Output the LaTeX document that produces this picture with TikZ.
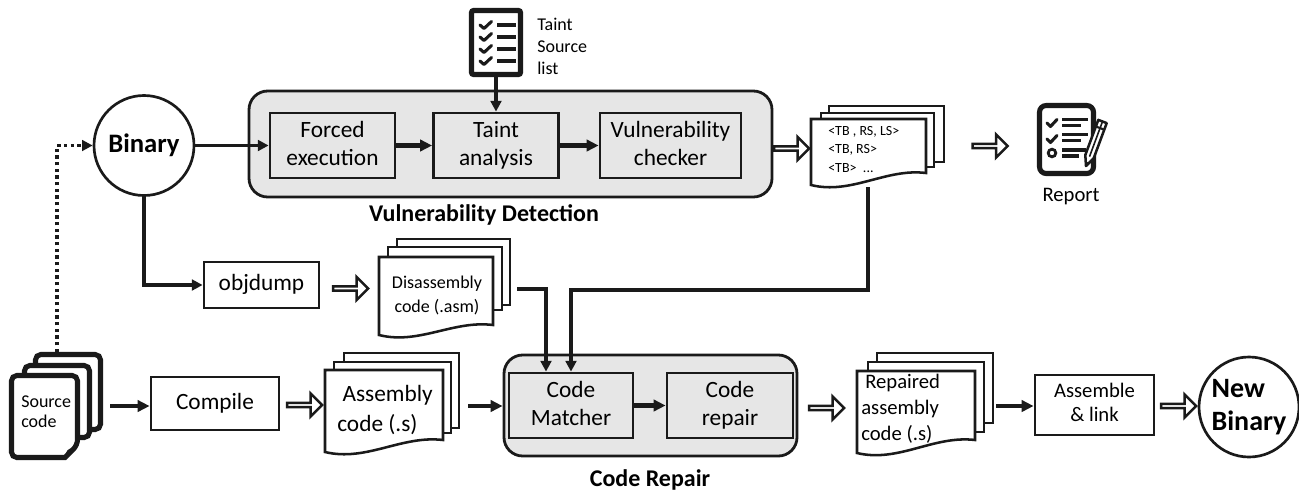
\documentclass[tikz,border=0pt]{standalone}
\usepackage{fontspec}
\setmainfont{Carlito}
\usetikzlibrary{arrows.meta,shapes.arrows,calc}
\definecolor{grp}{HTML}{E6E6E6}
\definecolor{ink}{HTML}{1A1A1A}
\newcommand\frontpage[5]{%
  \draw[page] (#1,#2) -- (#3,#2) -- (#3,#5) .. controls ({#3-0.35*(#3-#1)},{#5-5}) and ({#1+0.35*(#3-#1)},{#4+10}) .. (#1,#4) -- cycle;}
\newcommand\backpage[4]{\draw[page] (#1,#2) rectangle (#3,#4);}
\tikzset{
  sz/.style 2 args={minimum width=#1*0.75pt, minimum height=#2*0.75pt},
  box/.style={draw=ink, line width=2.1pt, inner sep=0pt, align=center},
  graybox/.style={box, fill=grp},
  whitebox/.style={box, fill=white},
  group/.style={draw=ink, line width=2.1pt, fill=grp, rounded corners=14pt, inner sep=0pt},
  conn/.style={draw=ink, line width=2.5pt, -{Triangle[length=8pt,width=8pt]}},
  bconn/.style={draw=ink, line width=3.3pt, -{Triangle[length=9pt,width=8.5pt]}},
  dotconn/.style={draw=ink, line width=2.6pt, dash pattern=on 2.6pt off 2.4pt, -{Triangle[length=8pt,width=8pt]}},
  harrow/.style={single arrow, draw=ink, fill=white, line width=1.9pt, inner sep=0pt,
    minimum height=35*0.75pt, minimum width=23*0.75pt, single arrow head extend=5.5*0.75pt},
  page/.style={draw=ink, line width=1.9pt, fill=white},
  srcpage/.style={draw=ink, line width=3.8pt, fill=white, rounded corners=4pt},
  mainf/.style={font=\fontsize{17.5}{21}\selectfont},
  midf/.style={font=\fontsize{15.5}{18}\selectfont},
  smallf/.style={font=\fontsize{13.5}{16.5}\selectfont},
  titlef/.style={font=\bfseries\fontsize{18}{22}\selectfont},
  bigcircle/.style={circle, draw=ink, line width=2pt, minimum size=100*0.75pt, inner sep=0pt, fill=white},
  ick/.style={draw=ink, line width=2.3pt, line cap=round, line join=round},
  iln/.style={draw=ink, line width=2.7pt},
}
\begin{document}
\begin{tikzpicture}[x=0.75pt,y=-0.75pt]
\useasboundingbox (0,0) rectangle (1299,494);

% ---------- Binary
\node[bigcircle, font=\bfseries\fontsize{20}{24}\selectfont] (bin) at (144,145.5) {Binary};

% ---------- Vulnerability Detection group
\node[group, sz={523}{106}] (vdg) at (510.5,144) {};
\node[graybox, sz={125}{65}, mainf] (forced) at (332.5,145.5) {Forced\strut\\execution\strut};
\node[graybox, sz={125}{65}, mainf] (taint) at (496,145.5) {Taint\strut\\analysis\strut};
\node[graybox, sz={141}{65}, mainf] (vuln) at (670.5,145.5) {Vulnerability\strut\\checker\strut};
\node[titlef] (vdl) at (484,215) {Vulnerability Detection};

% ---------- Taint source list icon
\node[draw=ink, line width=3.8pt, sz={49}{64}, inner sep=0pt, fill=white, rounded corners=1.5pt] (ticon) at (496,42.5) {};
\foreach \yy in {25,37,49,61}{
  \draw[ick] (480,\yy) -- (484,\yy+3.5) -- (491.5,\yy-3.5);
  \draw[iln] (497,\yy) -- (516,\yy);
}
\node[anchor=west, align=left, smallf, inner sep=0pt] (tsl) at (537,46) {Taint\\Source\\list};

% ---------- vulnerability list document
\backpage{829}{106}{944}{162}
\backpage{821}{113}{934}{167}
\frontpage{811}{119}{926}{185}{173}
\node[anchor=west, align=left, font=\fontsize{10.5}{14}\selectfont, inner sep=0pt] (vlist) at (828,149.5) {<TB , RS, LS>\\<TB, RS>\\<TB>\ \ ...};
\coordinate (vdocb) at (868,187);

% ---------- Report icon
\node[draw=ink, line width=3.8pt, rounded corners=5pt, sz={54}{68}, inner sep=0pt] (rep) at (1066.5,139.5) {};
\draw[ick] (1047,123) -- (1050.5,126.5) -- (1057,119.5);
\draw[ick] (1047,139) -- (1050.5,142.5) -- (1057,135.5);
\draw[draw=ink, line width=2.1pt] (1052,153) circle (3.8);
\draw[iln, line width=2.3pt] (1062,119.5) -- (1088,119.5) (1062,125.5) -- (1081,125.5);
\draw[iln, line width=2.3pt] (1062,134.5) -- (1088,134.5) (1062,140.5) -- (1081,140.5);
\draw[iln, line width=2.3pt] (1062,150) -- (1086,150) (1062,156) -- (1079,156);
\draw[draw=ink, line width=1.9pt, fill=white, line join=round] (1086,166) -- (1085.3,155) -- (1098.3,119.9) -- (1106.7,123.1) -- (1093.7,158.2) -- cycle;
\draw[draw=ink, line width=1.6pt] (1095.9,126.5) -- (1104.3,129.7);
\draw[draw=ink, line width=1.2pt] (1089.5,156.6) -- (1102.5,121.5);
\fill[ink] (1086,166) -- (1089.1,162.8) -- (1085.7,161.6) -- cycle;
\node[midf] (replbl) at (1071,197) {Report};

% ---------- hollow arrows (top row)
\node[harrow] (h1) at (790.5,148.5) {};
\node[harrow] (h2) at (989,146) {};

% ---------- objdump + disassembly
\node[whitebox, sz={115}{46}, mainf] (objd) at (261.5,285) {objdump\strut};
\node[harrow] (h3) at (349.5,288.5) {};
\backpage{397}{239}{510}{305}
\backpage{388}{247}{502}{310}
\frontpage{379}{257}{493}{335}{325}
\node[align=center, font=\fontsize{13.5}{18}\selectfont, inner sep=0pt] (dis) at (437,295) {Disassembly\\code (.asm)};
\coordinate (dasr) at (517,289);

% ---------- Source code icon
\draw[srcpage] (35.5,354.5) rectangle (100.5,429.5);
\draw[srcpage] (24.5,365.5) rectangle (89.5,437.5);
\draw[srcpage] (11.5,375.5) -- (77.5,375.5) -- (77.5,445) [sharp corners]-- (65,457.5) [rounded corners=4pt]-- (11.5,457.5) -- cycle;
\fill[ink] (65,457.5) .. controls (66,451) and (68,448.5) .. (71.5,448.5) .. controls (74,448.5) and (76,447.5) .. (77.5,445) -- cycle;
\node[anchor=west, align=left, font=\fontsize{13.5}{15}\selectfont, inner sep=0pt] (src) at (21,412) {Source\\code};
\coordinate (srctop) at (57,352);
\coordinate (srcr) at (110,406);

% ---------- Compile + assembly
\node[whitebox, sz={128}{53}, mainf] (comp) at (215,403.5) {Compile\strut};
\node[harrow] (h4) at (303.5,405) {};
\backpage{344}{353}{459}{428}
\backpage{334}{362}{451}{433}
\frontpage{325}{370}{443}{452}{440}
\node[anchor=west, align=left, font=\fontsize{17.5}{22.5}\selectfont, inner sep=0pt] (asm) at (337,410) {\hspace{4pt}Assembly\\code (.s)};
\coordinate (asmr) at (468,406);

% ---------- Code Repair group
\node[group, sz={293}{101}] (crg) at (650.5,405.5) {};
\node[graybox, sz={124}{65}, mainf] (cm) at (571,405.5) {Code\strut\\Matcher\strut};
\node[graybox, sz={126}{65}, mainf] (crp) at (730,405.5) {Code\strut\\repair\strut};
\node[titlef] (crl) at (650,480) {Code Repair};

% ---------- Repaired + assemble + new binary
\node[harrow] (h5) at (825.5,408) {};
\backpage{877}{353}{993}{423}
\backpage{868}{362}{984}{432}
\frontpage{857}{371}{975}{453}{440}
\node[anchor=west, align=left, font=\fontsize{15.5}{19.5}\selectfont, inner sep=0pt] (rep2) at (861,409) {\hspace{3pt}Repaired\\assembly\\code (.s)};
\coordinate (rasr) at (996,406);
\node[whitebox, sz={119}{60}, midf] (asl) at (1094.5,405) {Assemble\strut\\\& link\strut};
\node[harrow] (h6) at (1177.5,406) {};
\node[bigcircle, align=left, font=\bfseries\fontsize{21}{24.75}\selectfont] (nbin) at (1249,407) {New\\Binary};

% ---------- connectors
\draw[conn] (bin.east) -- (forced.west);
\draw[bconn] (forced.east) -- (taint.west);
\draw[bconn] (taint.east) -- (vuln.west);
\draw[conn] (ticon.south) -- (taint.north);
\draw[conn] (bin.south) |- (objd.west);
\draw[dotconn] (srctop) |- (bin.west);
\draw[bconn] (srcr) -- (comp.west |- srcr);
\draw[bconn] (asmr) -- (crg.west |- asmr);
\draw[bconn] (cm.east) -- (crp.west);
\draw[bconn] (rasr) -- (asl.west |- rasr);
\draw[conn] (vdocb) -- ++(0,103) -| (cm.north);
\draw[conn] (dasr) -| ([xshift=-18.75pt]cm.north);
\end{tikzpicture}
\end{document}
